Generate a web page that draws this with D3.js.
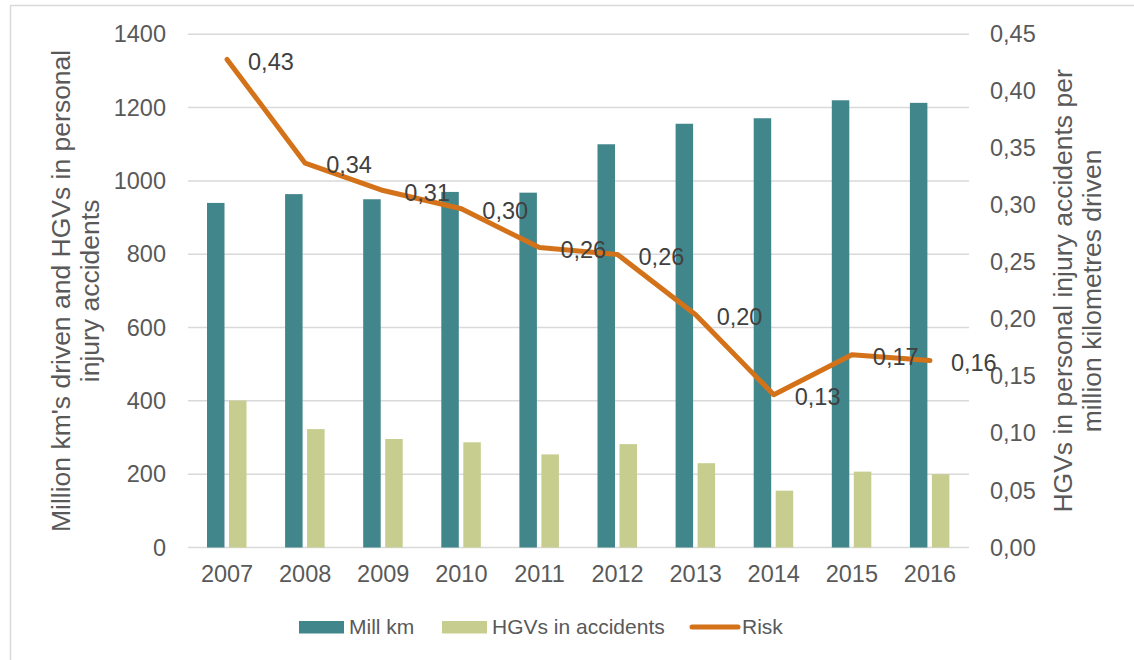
<!DOCTYPE html>
<html>
<head>
<meta charset="utf-8">
<script src="https://cdn.jsdelivr.net/npm/d3@7"></script>
<style>
  body { margin: 0; background: #fff; }
  text { font-family: "Liberation Sans", Arial, sans-serif; }
</style>
</head>
<body>
<svg width="1134" height="660"></svg>
<script>
// data
var years = ["2007", "2008", "2009", "2010", "2011", "2012", "2013", "2014", "2015", "2016"];
var millKm = [940, 964, 950, 970, 968, 1100, 1156, 1171, 1220, 1213];
var hgvs = [401, 323, 296, 287, 254, 282, 230, 155, 207, 200];
var risk = [0.428, 0.337, 0.313, 0.297, 0.263, 0.257, 0.204, 0.134, 0.169, 0.164];
var leftTicks = [0, 200, 400, 600, 800, 1000, 1200, 1400];
var rightTicks = [0, 0.05, 0.10, 0.15, 0.20, 0.25, 0.30, 0.35, 0.40, 0.45];

var svg = d3.select("svg");
var margin = { top: 34.3, right: 165, bottom: 112.5, left: 188 };
var width = +svg.attr("width") - margin.left - margin.right;
var height = +svg.attr("height") - margin.top - margin.bottom;

// rand van het kader (alleen boven en links zichtbaar)
svg.append("path")
    .attr("d", "M10.5,660 V5.5 H1134")
    .attr("fill", "none")
    .attr("stroke", "#d9d9d9")
    .attr("stroke-width", 1.5);

var g = svg.append("g").attr("transform", "translate(" + margin.left + "," + margin.top + ")");

var x = d3.scaleBand().domain(years).range([0, width]);
var y = d3.scaleLinear().domain([0, 1400]).range([height, 0]);
var y2 = d3.scaleLinear().domain([0, 0.45]).range([height, 0]);

var fmt = function (d) { return d3.format(".2f")(d).replace(".", ","); };
var textColor = "#595959";
var fs = 23.5;

// gridlines
g.append("g")
    .selectAll("line")
    .data(leftTicks)
    .enter().append("line")
    .attr("x1", 0)
    .attr("x2", width)
    .attr("y1", function (d) { return y(d); })
    .attr("y2", function (d) { return y(d); })
    .attr("stroke", "#d9d9d9")
    .attr("stroke-width", 1.5);

// left axis
var axL = g.append("g")
    .call(d3.axisLeft(y).tickValues(leftTicks).tickSize(0).tickPadding(22).tickFormat(d3.format("d")));
axL.select(".domain").remove();
axL.selectAll("text").attr("fill", textColor).style("font-size", fs + "px")
    .style("font-family", "Liberation Sans, Arial, sans-serif");

// right axis
var axR = g.append("g")
    .attr("transform", "translate(" + width + ",0)")
    .call(d3.axisRight(y2).tickValues(rightTicks).tickSize(0).tickPadding(21).tickFormat(fmt));
axR.select(".domain").remove();
axR.selectAll("text").attr("fill", textColor).style("font-size", fs + "px")
    .style("font-family", "Liberation Sans, Arial, sans-serif");

// bottom axis
var axB = g.append("g")
    .attr("transform", "translate(0," + height + ")")
    .call(d3.axisBottom(x).tickSize(0).tickPadding(18));
axB.select(".domain").remove();
axB.selectAll("text").attr("fill", textColor).style("font-size", fs + "px")
    .style("font-family", "Liberation Sans, Arial, sans-serif");

// bars
var barW = 17.5;
g.append("g").selectAll("rect")
    .data(millKm)
    .enter().append("rect")
    .attr("x", function (d, i) { return x(years[i]) + 19; })
    .attr("y", function (d) { return y(d); })
    .attr("width", barW)
    .attr("height", function (d) { return height - y(d); })
    .attr("fill", "#41868a");

g.append("g").selectAll("rect")
    .data(hgvs)
    .enter().append("rect")
    .attr("x", function (d, i) { return x(years[i]) + 41; })
    .attr("y", function (d) { return y(d); })
    .attr("width", barW)
    .attr("height", function (d) { return height - y(d); })
    .attr("fill", "#c7cd8f");

// risk line
var line = d3.line()
    .x(function (d, i) { return x(years[i]) + x.bandwidth() / 2; })
    .y(function (d) { return y2(d); });

g.append("path")
    .datum(risk)
    .attr("fill", "none")
    .attr("stroke", "#d4721a")
    .attr("stroke-width", 5)
    .attr("stroke-linejoin", "round")
    .attr("stroke-linecap", "round")
    .attr("d", line);

// labels
g.append("g").selectAll("text")
    .data(risk)
    .enter().append("text")
    .attr("x", function (d, i) { return x(years[i]) + x.bandwidth() / 2 + 21; })
    .attr("y", function (d) { return y2(d) + 2; })
    .attr("dy", "0.35em")
    .attr("fill", "#404040")
    .style("font-size", fs + "px")
    .text(function (d) { return fmt(d); });

// axis titles
var tfs = 26.5;
var titleL = svg.append("text")
    .attr("transform", "translate(61," + (margin.top + height / 2) + ") rotate(-90)")
    .attr("text-anchor", "middle")
    .attr("fill", textColor)
    .style("font-size", tfs + "px");
titleL.append("tspan").attr("x", 0).attr("dy", "0.35em").text("Million km's driven and HGVs in personal");
titleL.append("tspan").attr("x", 0).attr("dy", "1.1em").text("injury accidents");

var titleR = svg.append("text")
    .attr("transform", "translate(1063," + (margin.top + height / 2) + ") rotate(-90)")
    .attr("text-anchor", "middle")
    .attr("fill", textColor)
    .style("font-size", tfs + "px");
titleR.append("tspan").attr("x", 0).attr("dy", "0.35em").text("HGVs in personal injury accidents per");
titleR.append("tspan").attr("x", 0).attr("dy", "1.1em").text("million kilometres driven");

// legend
var lfs = 21;
var legend = svg.append("g").attr("transform", "translate(0,627)");
legend.append("rect").attr("x", 299).attr("y", -6).attr("width", 45).attr("height", 12.5).attr("fill", "#41868a");
legend.append("text").attr("x", 349).attr("dy", "0.35em").attr("fill", textColor).style("font-size", lfs + "px").text("Mill km");
legend.append("rect").attr("x", 442).attr("y", -6).attr("width", 45).attr("height", 12.5).attr("fill", "#c7cd8f");
legend.append("text").attr("x", 492).attr("dy", "0.35em").attr("fill", textColor).style("font-size", lfs + "px").text("HGVs in accidents");
legend.append("line").attr("x1", 692).attr("x2", 738).attr("y1", 0).attr("y2", 0)
    .attr("stroke", "#d4721a").attr("stroke-width", 5).attr("stroke-linecap", "round");
legend.append("text").attr("x", 742).attr("dy", "0.35em").attr("fill", textColor).style("font-size", lfs + "px").text("Risk");
</script>
</body>
</html>
